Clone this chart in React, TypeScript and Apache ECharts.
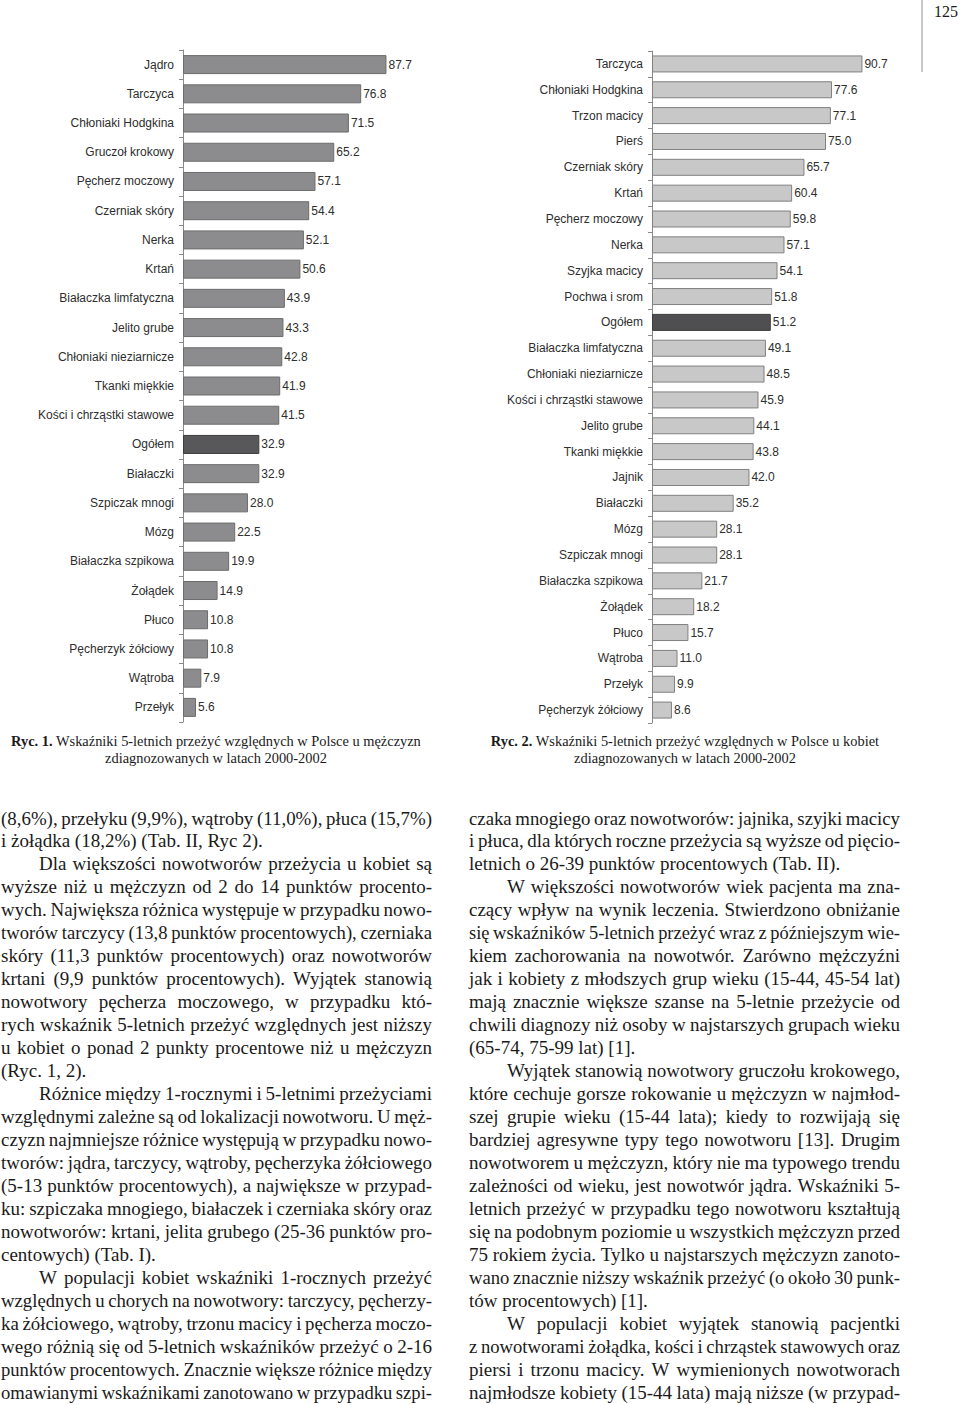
import React, { useEffect, useRef } from "react";
import * as echarts from "echarts";

// ---------- DATA ----------
const menCategories = [
  "Jądro", "Tarczyca", "Chłoniaki Hodgkina", "Gruczoł krokowy", "Pęcherz moczowy",
  "Czerniak skóry", "Nerka", "Krtań", "Białaczka limfatyczna", "Jelito grube",
  "Chłoniaki nieziarnicze", "Tkanki miękkie", "Kości i chrząstki stawowe", "Ogółem",
  "Białaczki", "Szpiczak mnogi", "Mózg", "Białaczka szpikowa", "Żołądek", "Płuco",
  "Pęcherzyk żółciowy", "Wątroba", "Przełyk",
];
const menValues = [
  87.7, 76.8, 71.5, 65.2, 57.1, 54.4, 52.1, 50.6, 43.9, 43.3, 42.8, 41.9, 41.5,
  32.9, 32.9, 28.0, 22.5, 19.9, 14.9, 10.8, 10.8, 7.9, 5.6,
];

const womenCategories = [
  "Tarczyca", "Chłoniaki Hodgkina", "Trzon macicy", "Pierś", "Czerniak skóry", "Krtań",
  "Pęcherz moczowy", "Nerka", "Szyjka macicy", "Pochwa i srom", "Ogółem",
  "Białaczka limfatyczna", "Chłoniaki nieziarnicze", "Kości i chrząstki stawowe",
  "Jelito grube", "Tkanki miękkie", "Jajnik", "Białaczki", "Mózg", "Szpiczak mnogi",
  "Białaczka szpikowa", "Żołądek", "Płuco", "Wątroba", "Przełyk", "Pęcherzyk żółciowy",
];
const womenValues = [
  90.7, 77.6, 77.1, 75.0, 65.7, 60.4, 59.8, 57.1, 54.1, 51.8, 51.2, 49.1, 48.5, 45.9,
  44.1, 43.8, 42.0, 35.2, 28.1, 28.1, 21.7, 18.2, 15.7, 11.0, 9.9, 8.6,
];

const totalLabel = "Ogółem";

const caption1 = ["Ryc. 1.", "Wskaźniki 5-letnich przeżyć względnych w Polsce u mężczyzn", "zdiagnozowanych w latach 2000-2002"];
const caption2 = ["Ryc. 2.", "Wskaźniki 5-letnich przeżyć względnych w Polsce u kobiet", "zdiagnozowanych w latach 2000-2002"];
const pageNumber = "125";

// kind: j = justified, ij = indented + justified, l = last line of paragraph
const leftColumn: [string, string][] = [
  ["j", "(8,6%), przełyku (9,9%), wątroby (11,0%), płuca (15,7%)"],
  ["l", "i żołądka (18,2%) (Tab. II, Ryc 2)."],
  ["ij", "Dla większości nowotworów przeżycia u kobiet są"],
  ["j", "wyższe niż u mężczyzn od 2 do 14 punktów procento-"],
  ["j", "wych. Największa różnica występuje w przypadku nowo-"],
  ["j", "tworów tarczycy (13,8 punktów procentowych), czerniaka"],
  ["j", "skóry (11,3 punktów procentowych) oraz nowotworów"],
  ["j", "krtani (9,9 punktów procentowych). Wyjątek stanowią"],
  ["j", "nowotwory pęcherza moczowego, w przypadku któ-"],
  ["j", "rych wskaźnik 5-letnich przeżyć względnych jest niższy"],
  ["j", "u kobiet o ponad 2 punkty procentowe niż u mężczyzn"],
  ["l", "(Ryc. 1, 2)."],
  ["ij", "Różnice między 1-rocznymi i 5-letnimi przeżyciami"],
  ["j", "względnymi zależne są od lokalizacji nowotworu. U męż-"],
  ["j", "czyzn najmniejsze różnice występują w przypadku nowo-"],
  ["j", "tworów: jądra, tarczycy, wątroby, pęcherzyka żółciowego"],
  ["j", "(5-13 punktów procentowych), a największe w przypad-"],
  ["j", "ku: szpiczaka mnogiego, białaczek i czerniaka skóry oraz"],
  ["j", "nowotworów: krtani, jelita grubego (25-36 punktów pro-"],
  ["l", "centowych) (Tab. I)."],
  ["ij", "W populacji kobiet wskaźniki 1-rocznych przeżyć"],
  ["j", "względnych u chorych na nowotwory: tarczycy, pęcherzy-"],
  ["j", "ka żółciowego, wątroby, trzonu macicy i pęcherza moczo-"],
  ["j", "wego różnią się od 5-letnich wskaźników przeżyć o 2-16"],
  ["j", "punktów procentowych. Znacznie większe różnice między"],
  ["j", "omawianymi wskaźnikami zanotowano w przypadku szpi-"],
];

const rightColumn: [string, string][] = [
  ["j", "czaka mnogiego oraz nowotworów: jajnika, szyjki macicy"],
  ["j", "i płuca, dla których roczne przeżycia są wyższe od pięcio-"],
  ["l", "letnich o 26-39 punktów procentowych (Tab. II)."],
  ["ij", "W większości nowotworów wiek pacjenta ma zna-"],
  ["j", "czący wpływ na wynik leczenia. Stwierdzono obniżanie"],
  ["j", "się wskaźników 5-letnich przeżyć wraz z późniejszym wie-"],
  ["j", "kiem zachorowania na nowotwór. Zarówno mężczyźni"],
  ["j", "jak i kobiety z młodszych grup wieku (15-44, 45-54 lat)"],
  ["j", "mają znacznie większe szanse na 5-letnie przeżycie od"],
  ["j", "chwili diagnozy niż osoby w najstarszych grupach wieku"],
  ["l", "(65-74, 75-99 lat) [1]."],
  ["ij", "Wyjątek stanowią nowotwory gruczołu krokowego,"],
  ["j", "które cechuje gorsze rokowanie u mężczyzn w najmłod-"],
  ["j", "szej grupie wieku (15-44 lata); kiedy to rozwijają się"],
  ["j", "bardziej agresywne typy tego nowotworu [13]. Drugim"],
  ["j", "nowotworem u mężczyzn, który nie ma typowego trendu"],
  ["j", "zależności od wieku, jest nowotwór jądra. Wskaźniki 5-"],
  ["j", "letnich przeżyć w przypadku tego nowotworu kształtują"],
  ["j", "się na podobnym poziomie u wszystkich mężczyzn przed"],
  ["j", "75 rokiem życia. Tylko u najstarszych mężczyzn zanoto-"],
  ["j", "wano znacznie niższy wskaźnik przeżyć (o około 30 punk-"],
  ["l", "tów procentowych) [1]."],
  ["ij", "W populacji kobiet wyjątek stanowią pacjentki"],
  ["j", "z nowotworami żołądka, kości i chrząstek stawowych oraz"],
  ["j", "piersi i trzonu macicy. W wymienionych nowotworach"],
  ["j", "najmłodsze kobiety (15-44 lata) mają niższe (w przypad-"],
];

// ---------- LAYOUT / STYLE ----------
const W = 960;
const H = 1405;
const BODY_FONT = "Liberation Serif";
const BODY_SIZE = 19;
const BODY_COLOR = "#1a1a1a";
const LINE_TOP = 818;
const LINE_STEP = 22.96;
const INDENT = 38;

function buildColumn(lines: [string, string][], left: number, right: number): any[] {
  const canvas = document.createElement("canvas");
  const ctx = canvas.getContext("2d")!;
  ctx.font = `${BODY_SIZE}px "${BODY_FONT}"`;
  const measure = (s: string) => ctx.measureText(s).width;
  const space = measure(" ");
  const els: any[] = [];
  lines.forEach(([kind, text], i) => {
    const y = LINE_TOP + i * LINE_STEP;
    const x0 = left + (kind === "ij" ? INDENT : 0);
    const words = text.split(" ");
    const widths = words.map(measure);
    const sum = widths.reduce((a, b) => a + b, 0);
    const target = right - x0;
    let gap = space;
    let scale = 1;
    if (kind !== "l" && words.length > 1) {
      gap = (target - sum) / (words.length - 1);
      if (gap < space * 0.78) {
        gap = space * 0.78;
        scale = target / (sum + gap * (words.length - 1));
      }
    }
    let x = x0;
    words.forEach((wd, k) => {
      els.push({
        type: "text",
        x,
        y,
        scaleX: scale,
        silent: true,
        style: {
          text: wd,
          fontFamily: BODY_FONT,
          fontSize: BODY_SIZE,
          fill: BODY_COLOR,
          align: "left",
          verticalAlign: "middle",
        },
      });
      x += (widths[k] + gap) * scale;
    });
  });
  return els;
}

function barData(cats: string[], vals: number[], dark: string) {
  return vals.map((v, i) =>
    cats[i] === totalLabel
      ? { value: v, itemStyle: { color: dark, borderColor: "#3c3c3c" } }
      : { value: v }
  );
}

export default function App() {
  const ref = useRef<HTMLDivElement>(null);

  useEffect(() => {
    if (!ref.current) return;
    const chart = echarts.init(ref.current, undefined, { renderer: "svg", width: W, height: H });

    const catAxisCommon = {
      type: "category" as const,
      inverse: true,
      axisLine: { show: true, lineStyle: { color: "#8a8a8a", width: 1 } },
      axisTick: { show: true, length: 4, lineStyle: { color: "#8a8a8a" } },
      axisLabel: {
        fontFamily: "Liberation Sans",
        fontSize: 12,
        color: "#2e2e2e",
        margin: 9,
      },
    };

    const labelCommon = {
      show: true,
      position: "right" as const,
      distance: 2,
      fontFamily: "Liberation Sans",
      fontSize: 12,
      color: "#2e2e2e",
      formatter: (p: any) => Number(p.value).toFixed(1),
    };

    const captionStyle = (lines: string[], cx: number, y: number) => [
      {
        type: "text",
        x: cx,
        y,
        silent: true,
        style: {
          text: `{b|${lines[0]}} ${lines[1]}`,
          fontFamily: BODY_FONT,
          fontSize: 14.4,
          fill: "#1a1a1a",
          align: "center",
          verticalAlign: "middle",
          rich: { b: { fontWeight: "bold", fontFamily: BODY_FONT, fontSize: 14.4, fill: "#1a1a1a" } },
        },
      },
      {
        type: "text",
        x: cx,
        y: y + 17,
        silent: true,
        style: {
          text: lines[2],
          fontFamily: BODY_FONT,
          fontSize: 14.4,
          fill: "#1a1a1a",
          align: "center",
          verticalAlign: "middle",
        },
      },
    ];

    const option: any = {
      animation: false,
      backgroundColor: "#ffffff",
      grid: [
        { left: 183, top: 50, width: 232, height: 672 },
        { left: 652, top: 51, width: 232, height: 672 },
      ],
      xAxis: [
        { type: "value", gridIndex: 0, min: 0, max: 100, show: false },
        { type: "value", gridIndex: 1, min: 0, max: 100, show: false },
      ],
      yAxis: [
        { ...catAxisCommon, gridIndex: 0, data: menCategories },
        { ...catAxisCommon, gridIndex: 1, data: womenCategories },
      ],
      series: [
        {
          type: "bar",
          xAxisIndex: 0,
          yAxisIndex: 0,
          barWidth: 19,
          data: barData(menCategories, menValues, "#58585a"),
          itemStyle: { color: "#8c8c8e", borderColor: "#6c6c6c", borderWidth: 1 },
          label: labelCommon,
        },
        {
          type: "bar",
          xAxisIndex: 1,
          yAxisIndex: 1,
          barWidth: 17,
          data: barData(womenCategories, womenValues, "#4f4f51"),
          itemStyle: { color: "#c8c8c8", borderColor: "#808080", borderWidth: 1 },
          label: labelCommon,
        },
      ],
      graphic: [
        {
          type: "line",
          silent: true,
          shape: { x1: 922, y1: 0, x2: 922, y2: 72 },
          style: { stroke: "#b4b4b4", lineWidth: 1.5 },
        },
        {
          type: "text",
          x: 946,
          y: 11,
          silent: true,
          style: {
            text: pageNumber,
            fontFamily: BODY_FONT,
            fontSize: 16,
            fill: "#1a1a1a",
            align: "center",
            verticalAlign: "middle",
          },
        },
        ...captionStyle(caption1, 216, 741),
        ...captionStyle(caption2, 685, 741),
        ...buildColumn(leftColumn, 1, 432),
        ...buildColumn(rightColumn, 469, 900),
      ],
    };

    chart.setOption(option);
    return () => chart.dispose();
  }, []);

  return (
    <div
      ref={ref}
      style={{ position: "absolute", left: 0, top: 0, width: W, height: H, background: "#fff" }}
    />
  );
}
